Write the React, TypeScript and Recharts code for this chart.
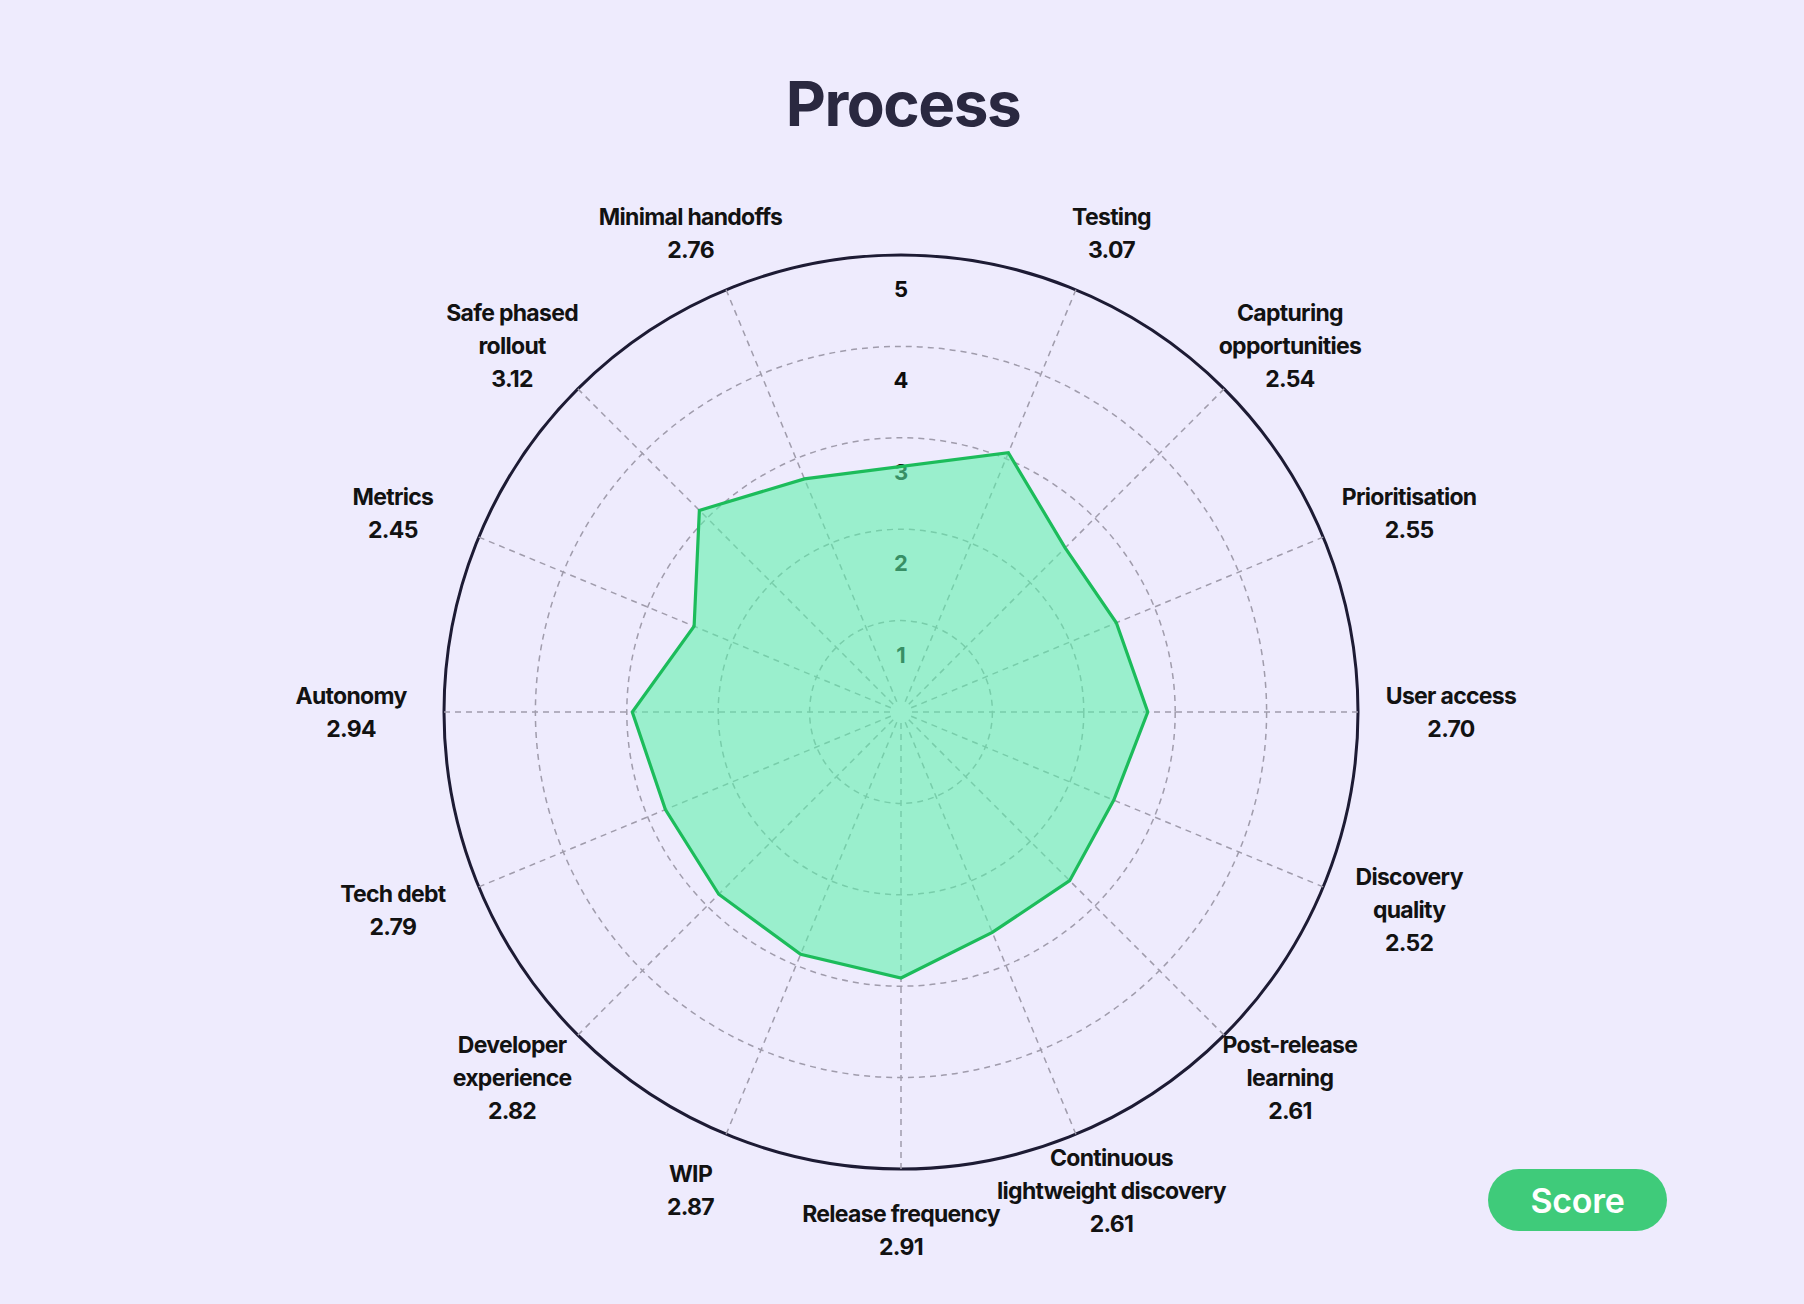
import React from 'react'
import { RadarChart, Radar, PolarGrid, PolarAngleAxis, PolarRadiusAxis } from 'recharts'

// first slot is intentionally empty: the reference keeps the top free for the scale numbers
const CATEGORIES = [
  '',
  'Testing',
  'Capturing\nopportunities',
  'Prioritisation',
  'User access',
  'Discovery\nquality',
  'Post-release\nlearning',
  'Continuous\nlightweight discovery',
  'Release frequency',
  'WIP',
  'Developer\nexperience',
  'Tech debt',
  'Autonomy',
  'Metrics',
  'Safe phased\nrollout',
  'Minimal handoffs',
]
const SCORES = [null, 3.07, 2.54, 2.55, 2.7, 2.52, 2.61, 2.61, 2.91, 2.87, 2.82, 2.79, 2.94, 2.45, 3.12, 2.76]
const SCALE_DOMAIN = [0, 5]

const data = CATEGORIES.map((name, i) => ({ name, score: SCORES[i] }))

const W = 1804
const H = 1304
const CX = 901
const CY = 712
const R = 457
const SPOKE_START = 10
const LABEL_RX = 550
const LABEL_RY = 518
const LINE_H = 33
const BG = '#eeebfd'
const GRID = '#a09cac'
const FONT = 'Inter, "Noto Sans", sans-serif'

const AngleTick = (props: any) => {
  const { payload } = props
  const name: string = payload?.value ?? ''
  if (!name) return <g />
  const cx = props.cx ?? CX
  const cy = props.cy ?? CY
  const rad = (-payload.coordinate * Math.PI) / 180
  const cos = Math.cos(rad)
  const sin = Math.sin(rad)
  const row = data.find(d => d.name === name)
  const lines = [...name.split('\n'), row && row.score != null ? row.score.toFixed(2) : '']
  const bx = cx + LABEL_RX * cos
  const by = cy + LABEL_RY * sin
  const y0 = by - ((lines.length - 1) * LINE_H) / 2
  return (
    <g>
      {/* spoke, drawn from the rim inwards so the dash pattern starts at the circle */}
      <line
        x1={cx + R * cos}
        y1={cy + R * sin}
        x2={cx + SPOKE_START * cos}
        y2={cy + SPOKE_START * sin}
        stroke={GRID}
        strokeWidth={1.5}
        strokeDasharray="6 5"
      />
      <text
        x={bx}
        y={y0}
        textAnchor="middle"
        dominantBaseline="central"
        fill="#121212"
        fontFamily={FONT}
        fontSize={23}
        fontWeight={700}
        letterSpacing={-0.7}
      >
        {lines.map((l, i) => (
          <tspan key={i} x={bx} y={y0 + i * LINE_H}>{l}</tspan>
        ))}
      </text>
    </g>
  )
}

const RadiusTick = ({ x, y, payload }: any) => {
  if (!payload || !payload.value) return <g />
  return (
    <text
      x={x}
      y={y + 34}
      textAnchor="middle"
      dominantBaseline="central"
      fill="#0d0d0d"
      fontFamily={FONT}
      fontSize={22}
      fontWeight={700}
    >
      {payload.value}
    </text>
  )
}

// skip the empty slot so the outline runs straight across the top
const ScoreShape = (props: any) => {
  const pts = (props.points || []).filter((p: any) => p.payload && p.payload.score != null)
  if (!pts.length) return <g />
  const d = pts.map((p: any, i: number) => `${i ? 'L' : 'M'}${p.x},${p.y}`).join(' ') + ' Z'
  return (
    <path
      d={d}
      stroke="#1cbc5b"
      strokeWidth={3.2}
      strokeLinejoin="miter"
      fill="#5af2a8"
      fillOpacity={0.57}
    />
  )
}

export default function App() {
  return (
    <div style={{ position: 'relative', width: W, height: H, background: BG, overflow: 'hidden', fontFamily: FONT }}>
      <style>{'body{margin:0}'}</style>

      <div style={{ position: 'absolute', left: 0, top: 0 }}>
        <RadarChart width={W} height={H} cx={CX} cy={CY} outerRadius={R} data={data} margin={{ top: 0, right: 0, bottom: 0, left: 0 }}>
          <PolarGrid gridType="circle" radialLines={false} stroke={GRID} strokeWidth={1.5} strokeDasharray="6 5" />
          <PolarAngleAxis
            dataKey="name"
            axisLineType="circle"
            axisLine={{ stroke: '#1d1b34', strokeWidth: 3 }}
            tickLine={false}
            tick={AngleTick}
            zIndex={50}
          />
          <PolarRadiusAxis
            angle={90}
            domain={SCALE_DOMAIN}
            tickCount={6}
            axisLine={false}
            tick={RadiusTick}
            zIndex={50}
          />
          <Radar
            dataKey="score"
            shape={ScoreShape}
            dot={false}
            isAnimationActive={false}
          />
        </RadarChart>
      </div>

      <svg width={W} height={160} style={{ position: 'absolute', left: 0, top: 0 }}>
        <text x={903} y={126} textAnchor="middle" fill="#2a2840" fontFamily={FONT} fontSize={62} fontWeight={700} letterSpacing={-1.5}>
          Process
        </text>
      </svg>

      {/* legend pill */}
      <div
        style={{
          position: 'absolute',
          left: 1488,
          top: 1169,
          width: 179,
          height: 62,
          borderRadius: 31,
          background: '#3fcb7a',
          color: '#fff',
          display: 'flex',
          alignItems: 'center',
          justifyContent: 'center',
          fontSize: 34,
          fontWeight: 600,
          letterSpacing: -0.3,
        }}
      >
        Score
      </div>
    </div>
  )
}
